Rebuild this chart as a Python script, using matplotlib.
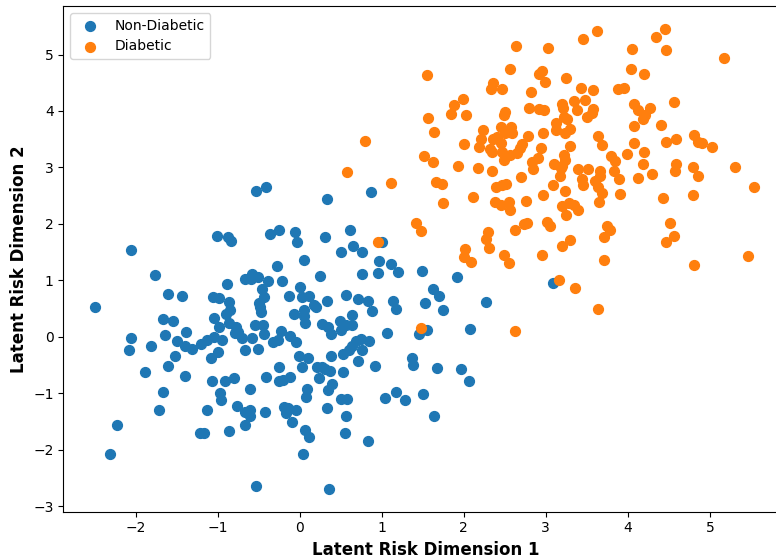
import matplotlib
matplotlib.use("Agg")
import matplotlib.pyplot as plt

# Non-Diabetic (class 0)
non_diabetic_x = [
    -0.53, -0.41, -2.05, -1.01, -0.87, -0.84, -0.36, -0.25, -0.06, -0.03,
    -0.28, -1.76, -0.66, -0.58, -0.59, -0.51, -0.39, -0.22, -0.88, -2.49,
    -1.60, -1.43, -1.06, -0.98, -0.46, -0.43, -0.13, -0.86, -0.49, -0.48,
    -0.47, -0.90, -0.85, -1.04, -1.67, -1.54, -0.07, -0.98, -0.86, -0.77,
    -0.79, -0.75, -0.54, -0.45, -1.64, -1.39, -2.05, -1.49, -1.13, -1.04,
    -0.94, -1.20, -0.70, -0.58, -0.44, -0.23, -0.32, -0.26, -0.12, -0.05,
    -1.81, -2.08, -1.40, -1.31, -1.52, -1.61, -1.88, -1.08, -0.99, -1.40,
    -1.07, -0.91, -0.80, -0.66, -0.51, -0.01, -0.25, -0.41, -0.25, -0.20,
    -0.12, 0.03, -0.60, -0.97, -0.96, -1.66, -1.71, -1.13, -0.76, -0.66,
    -0.60, -0.61, -0.42, -0.19, -0.14, -0.16, -0.05, -0.09, -0.66, -2.22,
    -1.21, -1.17, -0.86, -2.31, -0.53, 0.33, 0.87, 0.31, 0.62, 0.51,
    0.65, 0.76, 1.01, 0.05, 0.97, 1.12, 1.20, 0.76, 0.95, 1.49,
    1.92, 0.25, 0.01, 0.03, 0.12, 0.33, 0.17, 0.20, 0.57, 0.71,
    0.83, 0.88, 1.14, 1.18, 1.63, 1.70, 1.53, 1.75, 2.27, 0.05,
    0.05, 0.07, 0.64, 0.27, 0.35, 0.38, 0.49, 0.51, 0.56, 0.64,
    1.06, 1.45, 1.55, 2.08, 0.53, 0.60, 0.64, 0.69, 0.75, 0.84,
    0.76, 0.71, 0.10, 0.21, 0.27, 0.31, 0.37, 0.24, 0.38, 0.53,
    0.92, 1.37, 1.38, 1.68, 1.97, 2.07, 0.39, 0.34, 0.09, 0.08,
    0.51, 0.58, 1.04, 1.17, 1.28, 1.50, 0.33, 0.56, 1.64, 0.07,
    0.12, 0.55, 0.83, 0.04, 0.36, 3.09,
]
non_diabetic_y = [
    2.58, 2.65, 1.54, 1.78, 1.76, 1.70, 1.82, 1.89, 1.86, 1.67,
    1.25, 1.09, 1.03, 1.11, 1.03, 1.05, 0.99, 0.98, 0.93, 0.52,
    0.76, 0.72, 0.70, 0.69, 0.84, 0.70, 0.73, 0.62, 0.60, 0.53,
    0.44, 0.41, 0.47, 0.34, 0.31, 0.28, 0.41, 0.17, 0.24, 0.18,
    0.06, 0.09, 0.20, 0.20, 0.03, 0.08, -0.02, -0.07, -0.05, -0.01,
    -0.05, -0.13, -0.03, -0.03, 0.04, 0.11, -0.09, -0.06, 0.02, -0.09,
    -0.16, -0.24, -0.16, -0.22, -0.34, -0.52, -0.63, -0.38, -0.27, -0.70,
    -0.78, -0.78, -0.73, -0.24, -0.22, -0.35, -0.54, -0.71, -0.78, -0.76,
    -0.71, -0.54, -0.93, -0.99, -1.12, -0.98, -1.29, -1.29, -1.23, -1.34,
    -1.29, -1.41, -1.34, -1.25, -1.27, -1.35, -1.30, -1.51, -1.56, -1.57,
    -1.71, -1.70, -1.67, -2.08, -2.65, 2.44, 2.57, 1.76, 1.89, 1.50,
    1.60, 1.51, 1.67, 1.36, 1.35, 1.28, 1.15, 1.11, 1.13, 1.16,
    1.05, 1.08, 0.88, 0.71, 0.72, 0.64, 0.57, 0.52, 0.74, 0.66,
    0.63, 0.45, 0.64, 0.49, 0.84, 0.72, 0.59, 0.47, 0.61, 0.47,
    0.37, 0.24, 0.38, 0.23, 0.18, 0.04, 0.28, 0.12, 0.20, 0.20,
    0.07, 0.04, 0.12, 0.13, -0.31, -0.24, -0.16, -0.08, -0.04, -0.08,
    -0.24, -0.43, -0.37, -0.54, -0.53, -0.58, -0.61, -0.73, -0.34, -0.63,
    -0.52, -0.37, -0.50, -0.56, -0.57, -0.79, -0.84, -0.95, -0.93, -1.07,
    -1.11, -1.11, -1.08, -0.98, -1.12, -1.02, -1.27, -1.41, -1.41, -1.65,
    -1.78, -1.71, -1.84, -2.08, -2.70, 0.95,
]

# Diabetic (class 1)
diabetic_x = [
    2.64, 3.03, 2.56, 2.92, 2.95, 2.99, 1.55, 2.36, 2.33, 2.47,
    2.82, 1.99, 1.88, 1.85, 2.03, 2.50, 2.49, 2.79, 2.92, 2.98,
    1.57, 1.64, 2.23, 2.45, 2.58, 2.59, 2.50, 2.97, 3.13, 2.21,
    2.19, 2.36, 2.40, 2.32, 2.35, 2.45, 2.47, 2.49, 2.00, 2.71,
    2.78, 2.69, 2.57, 2.65, 2.94, 0.80, 1.52, 1.62, 1.93, 2.17,
    2.35, 2.83, 2.85, 2.90, 3.10, 0.58, 1.12, 1.66, 1.73, 2.39,
    2.47, 2.52, 2.70, 3.09, 2.11, 1.75, 2.38, 2.45, 2.55, 2.57,
    2.76, 2.97, 3.62, 4.45, 4.34, 3.46, 4.05, 4.46, 5.17, 4.04,
    4.20, 3.25, 3.43, 3.58, 3.88, 3.95, 4.56, 3.34, 3.48, 3.38,
    3.20, 3.21, 3.58, 3.56, 3.50, 4.08, 4.13, 4.27, 4.21, 4.19,
    3.22, 3.26, 3.12, 3.30, 3.24, 4.07, 4.40, 3.64, 3.69, 3.29,
    4.07, 4.46, 4.59, 4.81, 4.85, 4.90, 5.03, 3.99, 4.20, 3.79,
    3.85, 3.22, 3.23, 3.20, 3.39, 3.51, 4.19, 4.59, 4.58, 4.80,
    4.86, 5.31, 3.66, 3.66, 3.60, 3.64, 3.68, 3.65, 3.83, 3.89,
    3.19, 3.17, 3.44, 3.46, 4.12, 4.30, 3.23, 3.90, 4.43, 4.80,
    5.54, 3.20, 3.28, 3.34, 3.39, 3.25, 1.42, 1.48, 2.30, 2.27,
    2.31, 2.01, 2.00, 2.09, 2.62, 2.74, 2.77, 3.01, 3.05, 2.49,
    2.55, 2.96, 3.20, 3.30, 3.16, 3.36, 3.64, 1.48, 2.62, 3.75,
    3.78, 3.71, 4.51, 4.56, 4.46, 3.71, 4.81, 5.47, 0.96,
]
diabetic_y = [
    5.16, 5.11, 4.74, 4.66, 4.70, 4.52, 4.63, 4.49, 4.39, 4.39,
    4.33, 4.21, 4.10, 3.95, 3.93, 3.98, 3.93, 4.06, 4.04, 4.01,
    3.87, 3.62, 3.66, 3.71, 3.71, 3.61, 3.61, 3.61, 3.78, 3.51,
    3.36, 3.51, 3.54, 3.33, 3.28, 3.43, 3.28, 3.13, 3.41, 3.42,
    3.56, 3.34, 3.22, 3.25, 3.35, 3.46, 3.21, 3.09, 3.03, 2.99,
    2.94, 3.09, 2.97, 3.16, 3.06, 2.91, 2.73, 2.75, 2.71, 2.65,
    2.68, 2.71, 2.83, 2.69, 2.47, 2.37, 2.38, 2.34, 2.38, 2.25,
    2.41, 2.52, 5.42, 5.46, 5.31, 5.27, 5.10, 5.08, 4.93, 4.75,
    4.65, 4.59, 4.41, 4.38, 4.39, 4.41, 4.16, 4.18, 4.19, 4.01,
    4.13, 4.05, 4.04, 3.97, 3.89, 4.12, 4.02, 4.06, 3.93, 3.85,
    3.90, 3.86, 3.66, 3.68, 3.61, 3.74, 3.75, 3.56, 3.39, 3.38,
    3.43, 3.45, 3.51, 3.58, 3.45, 3.43, 3.36, 3.23, 3.27, 3.20,
    3.12, 3.22, 3.13, 3.03, 2.97, 2.97, 3.06, 3.06, 2.94, 3.00,
    2.85, 3.00, 2.93, 2.84, 2.76, 2.66, 2.55, 2.39, 2.94, 2.79,
    2.99, 2.84, 2.79, 2.69, 2.82, 2.88, 2.58, 2.53, 2.45, 2.52,
    2.66, 2.32, 2.37, 2.34, 2.25, 2.16, 2.02, 1.87, 1.86, 1.73,
    1.57, 1.55, 1.42, 1.33, 1.89, 1.99, 2.01, 2.03, 1.96, 1.45,
    1.31, 1.44, 1.61, 1.71, 1.01, 0.86, 0.50, 0.16, 0.11, 1.97,
    1.90, 1.77, 2.02, 1.79, 1.68, 1.36, 1.27, 1.43, 1.67,
]

class_labels = ["Non-Diabetic", "Diabetic"]
x_label = "Latent Risk Dimension 1"
y_label = "Latent Risk Dimension 2"

fig = plt.figure(figsize=(7.76, 5.6), dpi=100)
ax = fig.add_axes([63.3 / 776, 48.3 / 560, 724.5 / 776, 505.7 / 560])

ax.scatter(non_diabetic_x, non_diabetic_y, s=50, color="#1f77b4", label=class_labels[0])
ax.scatter(diabetic_x, diabetic_y, s=50, color="#ff7f0e", label=class_labels[1])

ax.set_xlim(-2.88, 5.95)
ax.set_ylim(-3.10, 5.86)
ax.set_xticks(range(-2, 6))
ax.set_yticks(range(-3, 6))
ax.set_xlabel(x_label, fontsize=12, fontweight="bold")
ax.set_ylabel(y_label, fontsize=12, fontweight="bold")
ax.legend(loc="upper left", fontsize=10)

fig.savefig("out.png", dpi=100)
